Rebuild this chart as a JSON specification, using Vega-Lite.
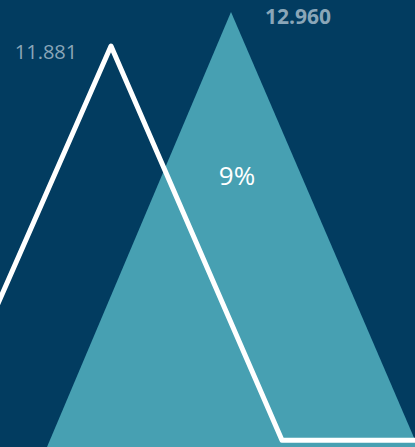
{
  "$schema": "https://vega.github.io/schema/vega-lite/v6.json",
  "width": 415,
  "height": 447,
  "autosize": {"type": "fit", "contains": "padding"},
  "padding": 0,
  "background": "#023c60",
  "config": {"view": {"stroke": null}},
  "datasets": {
    "current": [
      {"t": 47, "v": 0},
      {"t": 231, "v": 12.96},
      {"t": 418, "v": 0}
    ],
    "previous": [
      {"t": -70, "v": 0.2},
      {"t": -62, "v": 0.2},
      {"t": 111, "v": 11.95},
      {"t": 282, "v": 0.2},
      {"t": 430, "v": 0.2}
    ],
    "labels": [
      {"t": 46, "v": 11.75, "text": "11.881", "kind": "prev"},
      {"t": 298, "v": 12.77, "text": "12.960", "kind": "cur"},
      {"t": 237, "v": 8.05, "text": "9%", "kind": "pct"}
    ]
  },
  "layer": [
    {
      "data": {"name": "current"},
      "mark": {"type": "area", "color": "#47a0b2", "clip": true},
      "encoding": {
        "x": {"field": "t", "type": "quantitative", "scale": {"domain": [0, 415], "nice": false, "zero": false}, "axis": null},
        "y": {"field": "v", "type": "quantitative", "scale": {"domain": [0, 13.32], "nice": false}, "axis": null}
      }
    },
    {
      "data": {"name": "previous"},
      "mark": {"type": "line", "color": "#ffffff", "strokeWidth": 5, "strokeJoin": "round", "strokeCap": "round", "clip": true},
      "encoding": {
        "x": {"field": "t", "type": "quantitative"},
        "y": {"field": "v", "type": "quantitative"}
      }
    },
    {
      "data": {"name": "labels"},
      "transform": [{"filter": "datum.kind == 'prev'"}],
      "mark": {"type": "text", "font": "Open Sans", "fontSize": 20, "color": "#8aa6b8"},
      "encoding": {
        "x": {"field": "t", "type": "quantitative"},
        "y": {"field": "v", "type": "quantitative"},
        "text": {"field": "text"}
      }
    },
    {
      "data": {"name": "labels"},
      "transform": [{"filter": "datum.kind == 'cur'"}],
      "mark": {"type": "text", "font": "Open Sans", "fontSize": 21, "fontWeight": "bold", "color": "#8aa6b8"},
      "encoding": {
        "x": {"field": "t", "type": "quantitative"},
        "y": {"field": "v", "type": "quantitative"},
        "text": {"field": "text"}
      }
    },
    {
      "data": {"name": "labels"},
      "transform": [{"filter": "datum.kind == 'pct'"}],
      "mark": {"type": "text", "font": "Open Sans", "fontSize": 26, "color": "#ffffff"},
      "encoding": {
        "x": {"field": "t", "type": "quantitative"},
        "y": {"field": "v", "type": "quantitative"},
        "text": {"field": "text"}
      }
    }
  ]
}
